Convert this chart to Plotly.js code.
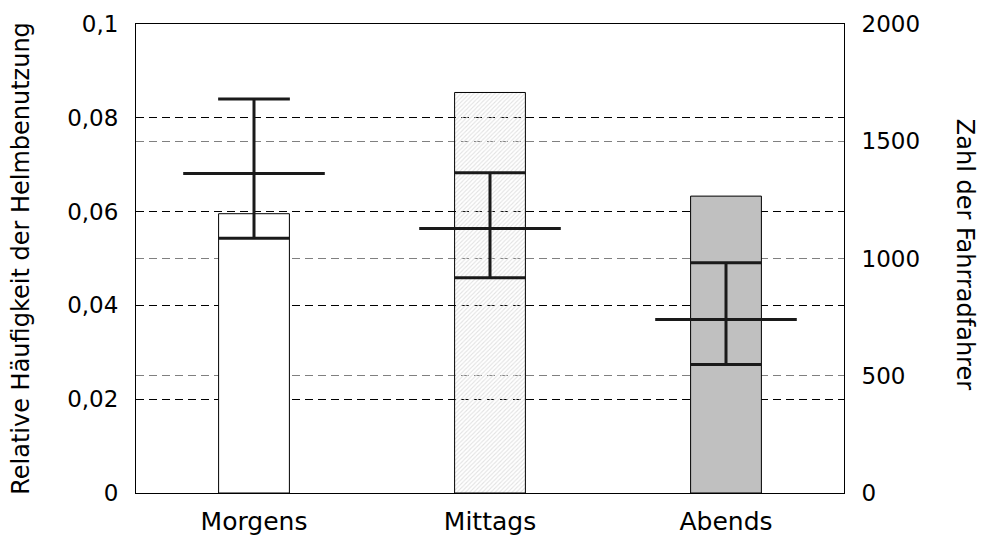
<!DOCTYPE html>
<html>
<head>
<meta charset="utf-8">
<script src="https://cdn.plot.ly/plotly-3.0.1.min.js"></script>
<style>html,body{margin:0;padding:0;background:#fff;}#chart{width:982px;height:537px;}</style>
</head>
<body>
<div id="chart"></div>
<script>
const categories = ['Morgens', 'Mittags', 'Abends'];
const riders = [1191, 1708, 1266];
const helmetMean = [0.0681, 0.0564, 0.0370];
const helmetUpper = [0.0840, 0.0683, 0.0491];
const helmetLower = [0.0543, 0.0459, 0.0274];
const barColors = ['#ffffff', '#e2e2e2', '#c0c0c0'];
const barPatterns = ['', '/', ''];
const leftTitle = 'Relative Häufigkeit der Helmbenutzung';
const rightTitle = 'Zahl der Fahrradfahrer';

const pos = categories.map((c, i) => i);
const meanHalf = 0.3, capHalf = 0.152;

const ex = [], ey = [];
pos.forEach((p, i) => {
  ex.push(p - meanHalf, p + meanHalf, null); ey.push(helmetMean[i], helmetMean[i], null);
  ex.push(p - capHalf, p + capHalf, null); ey.push(helmetUpper[i], helmetUpper[i], null);
  ex.push(p - capHalf, p + capHalf, null); ey.push(helmetLower[i], helmetLower[i], null);
  ex.push(p, p, null); ey.push(helmetLower[i], helmetUpper[i], null);
});

const font = 'DejaVu Sans, sans-serif';

const data = [
  {
    type: 'bar', x: pos, y: riders, yaxis: 'y', width: 0.3,
    marker: {
      color: barColors,
      line: {color: '#000', width: 1},
      pattern: {shape: barPatterns, fgcolor: '#a0a0a0', size: 3, solidity: 0.35, fillmode: 'replace'}
    },
    hoverinfo: 'none', showlegend: false
  },
  {
    type: 'scatter', mode: 'lines', x: ex, y: ey, yaxis: 'y2',
    line: {color: '#1a1a1a', width: 3}, connectgaps: false,
    hoverinfo: 'none', showlegend: false
  }
];

const layout = {
  width: 982, height: 537,
  margin: {l: 136, r: 138, t: 24, b: 44, pad: 0},
  paper_bgcolor: '#fff', plot_bgcolor: '#fff',
  separators: ',.',
  font: {family: font, color: '#000', size: 23},
  showlegend: false,
  xaxis: {
    range: [-0.5, 2.5], tickvals: pos, ticktext: categories,
    showgrid: false, zeroline: false, showline: true, mirror: true,
    linecolor: '#000', linewidth: 1, ticks: '', ticklabelstandoff: 6,
    tickfont: {family: font, size: 25, color: '#000'}
  },
  yaxis: {
    side: 'right', range: [0, 2000], tickvals: [0, 500, 1000, 1500, 2000],
    showgrid: true, gridcolor: '#808080', gridwidth: 1, griddash: '8px,5px',
    zeroline: false, showline: true, linecolor: '#000', linewidth: 1,
    ticks: '', ticklabelstandoff: 12,
    tickfont: {family: font, size: 23, color: '#000'}
  },
  yaxis2: {
    side: 'left', overlaying: 'y', range: [0, 0.1], tickvals: [0, 0.02, 0.04, 0.06, 0.08, 0.1],
    showgrid: true, gridcolor: '#000', gridwidth: 1, griddash: '8px,5px',
    zeroline: false, showline: true, linecolor: '#000', linewidth: 1,
    ticks: '', ticklabelstandoff: 12,
    tickfont: {family: font, size: 23, color: '#000'},
    title: {text: leftTitle, font: {family: font, size: 24, color: '#000'}, standoff: 30}
  },
  annotations: [{
    text: rightTitle, xref: 'paper', yref: 'paper', x: 1, y: 0.51,
    xanchor: 'center', yanchor: 'middle', xshift: 121, textangle: 90,
    showarrow: false, font: {family: font, size: 24, color: '#000'}
  }]
};

Plotly.newPlot('chart', data, layout, {displayModeBar: false, staticPlot: true});
</script>
</body>
</html>
